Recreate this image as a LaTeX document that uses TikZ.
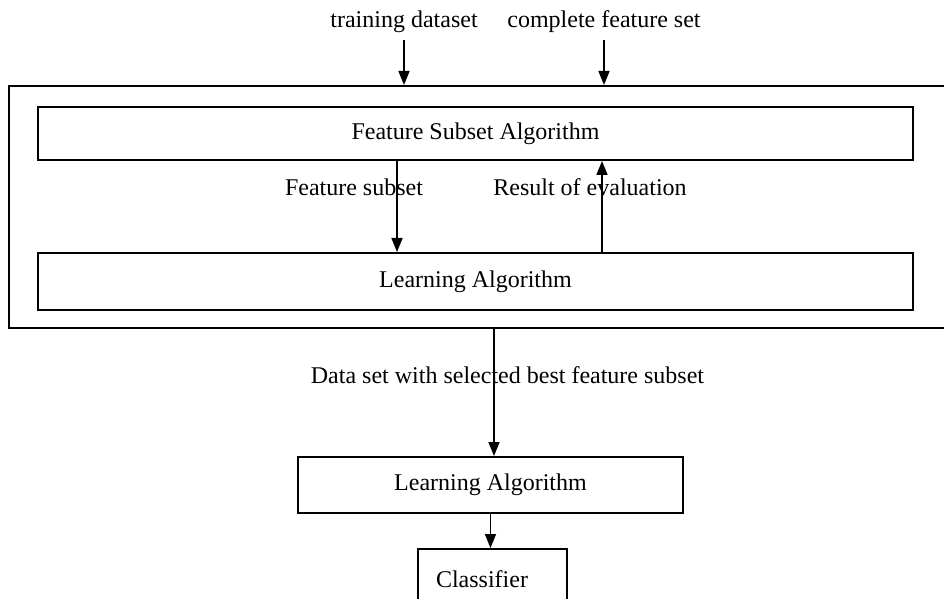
\documentclass[tikz,border=0pt]{standalone}
\usepackage{fontspec}
\setmainfont{Liberation Serif}
\usetikzlibrary{arrows.meta}

\begin{document}
\begin{tikzpicture}[x=0.5pt, y=-0.5pt,
        every node/.style={font=\fontsize{12}{14}\selectfont},
        box/.style={draw, line width=1pt, inner sep=0pt},
        arr/.style={-{Triangle[length=7pt,width=5.5pt]}, line width=0.8pt}]
    \useasboundingbox (0,0) rectangle (944,599);
    \clip (0,0) rectangle (944,599);
    % wrapper around the search loop
    \node[box, minimum width=483pt, minimum height=121pt] (outer) at (492,207) {};
    \node[box, minimum width=437.5pt, minimum height=26.5pt] (fsa) at (475.5,133.5) {Feature Subset Algorithm};
    \node[box, minimum width=437.5pt, minimum height=28.5pt] (learn) at (475.5,281.5) {Learning Algorithm};
    % inputs
    \node (train) at (404,22) {training dataset};
    \node (full) at (604,22) {complete feature set};
    \draw[arr] (train) -- (train |- outer.north);
    \draw[arr] (full) -- (full |- outer.north);
    % loop between the two boxes
    \node (fsub) at (354,187) {Feature subset};
    \node (eval) at (590,187) {Result of evaluation};
    \draw[arr] ([xshift=-39.25pt]fsa.south) -- ([xshift=-39.25pt]learn.north);
    \draw[arr] ([xshift=63.25pt]learn.north) -- ([xshift=63.25pt]fsa.south);
    % final training
    \node (best) at (507.5,375) {Data set with selected best feature subset};
    \node[box, minimum width=192.5pt, minimum height=28pt] (learn2) at (490.5,485) {Learning Algorithm};
    \node[box, minimum width=74.5pt, minimum height=30pt, inner xsep=9pt, text width=56.5pt, align=left] (cls) at (492.5,579) {Classifier};
    \draw[arr] ([xshift=1pt]outer.south) -- ([xshift=1pt]outer.south |- learn2.north);
    \draw[arr] (learn2.south) -- (learn2.south |- cls.north);
\end{tikzpicture}
\end{document}
